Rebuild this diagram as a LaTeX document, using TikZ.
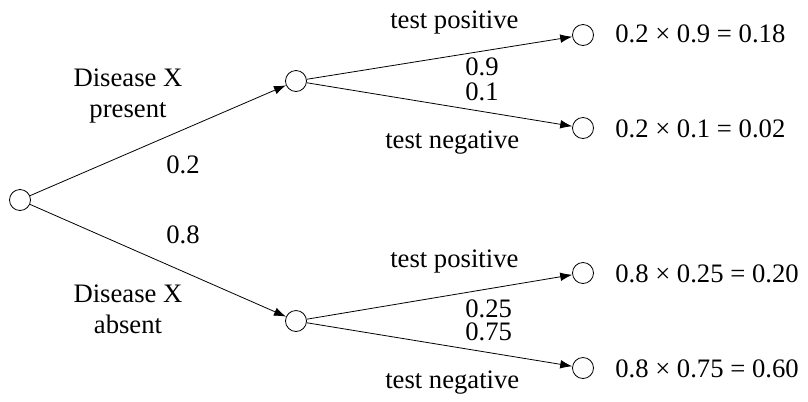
\documentclass[tikz,border=0pt]{standalone}
\usepackage{fontspec}
\setmainfont{Liberation Serif}
\usetikzlibrary{arrows.meta}
\begin{document}
\begin{tikzpicture}[x=0.75pt,y=-0.75pt,
  state/.style={circle,draw,minimum size=15.75pt,inner sep=0pt,line width=0.6pt},
  lbl/.style={inner sep=0pt,anchor=base west,font=\fontsize{20}{23}\selectfont},
  mlbl/.style={inner sep=0pt,anchor=base,align=center,font=\fontsize{20}{23}\selectfont},
  arr/.style={-{Latex[length=9pt,width=6.5pt]},line width=0.6pt}]
\useasboundingbox (0,0) rectangle (808,401);
% states
\node[state] (r) at (20,200) {};
\node[state] (p) at (296,81) {};
\node[state] (a) at (296,321) {};
\node[state] (pp) at (583,35) {};
\node[state] (pn) at (583,128) {};
\node[state] (ap) at (583,273) {};
\node[state] (an) at (583,368) {};
% connectors
\draw[arr] (r) -- (p);
\draw[arr] (r) -- (a);
\draw[arr] (p) -- (pp);
\draw[arr] (p) -- (pn);
\draw[arr] (a) -- (ap);
\draw[arr] (a) -- (an);
% labels
\node[mlbl] (l1) at (128,117) {Disease X\\present};
\node[lbl] (l2) at (166,173) {0.2};
\node[lbl] (l3) at (166,243) {0.8};
\node[mlbl] (l4) at (128,333) {Disease X\\absent};
\node[lbl] (l5) at (390,28) {test positive};
\node[lbl] (l6) at (465,75) {0.9};
\node[lbl] (l7) at (465,100) {0.1};
\node[lbl] (l8) at (385,148) {test negative};
\node[lbl] (l9) at (390,267) {test positive};
\node[lbl] (l10) at (465,317) {0.25};
\node[lbl] (l11) at (465,340) {0.75};
\node[lbl] (l12) at (385,388) {test negative};
\node[lbl] (v1) at (615,42) {0.2 × 0.9 = 0.18};
\node[lbl] (v2) at (615,137) {0.2 × 0.1 = 0.02};
\node[lbl] (v3) at (615,282) {0.8 × 0.25 = 0.20};
\node[lbl] (v4) at (615,377) {0.8 × 0.75 = 0.60};
\end{tikzpicture}
\end{document}
